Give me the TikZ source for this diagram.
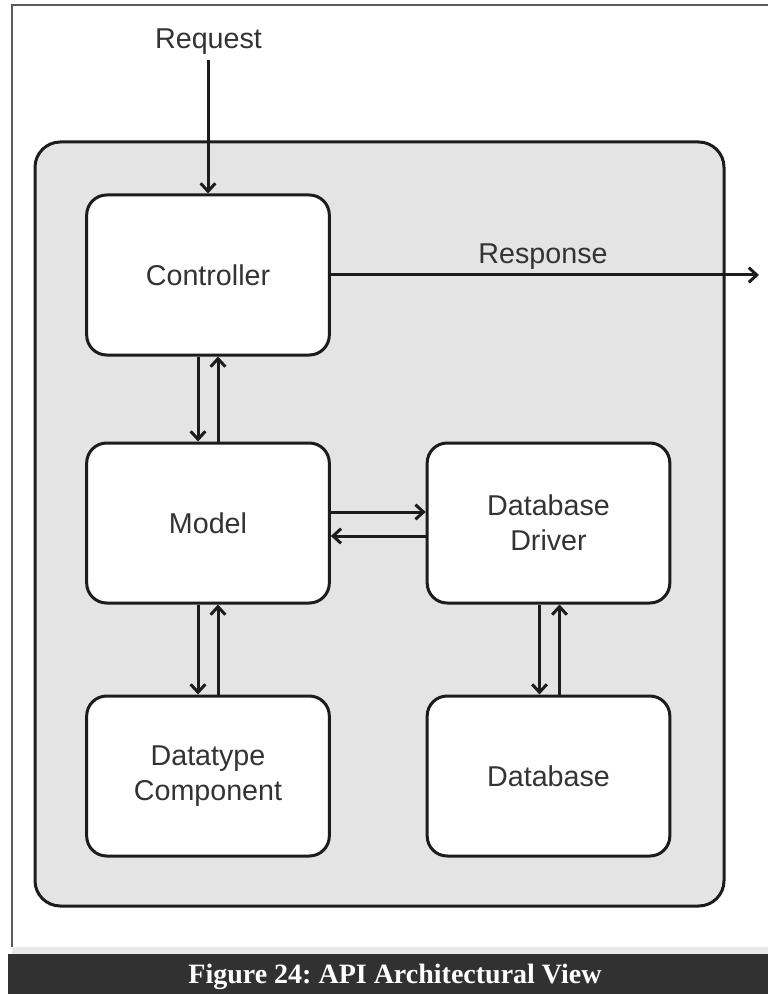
\documentclass[tikz,border=0pt]{standalone}
\usepackage{fontspec}
\setmainfont{Liberation Sans}
\newfontfamily\capfont{Liberation Serif}
\usetikzlibrary{arrows.meta,calc}

\definecolor{panel}{HTML}{E4E4E4}
\definecolor{ink}{HTML}{1C1C1C}
\definecolor{labelgray}{HTML}{333333}
\definecolor{capbar}{HTML}{313131}
\definecolor{strip}{HTML}{E9E9E9}
\definecolor{pageframe}{HTML}{5A5A5A}

\frenchspacing
\begin{document}
\begin{tikzpicture}[
  x=0.75pt, y=-0.75pt,
  flow/.style={draw=ink, line width=2.25pt,
    -{Straight Barb[length=6pt,width=11pt]}},
  block/.style={draw=ink, line width=2.25pt, fill=white, rounded corners=15pt,
    minimum width=182pt, minimum height=120pt, align=center,
    text=labelgray, font=\fontsize{21.5}{26}\selectfont},
  tag/.style={text=labelgray, font=\fontsize{21.5}{26}\selectfont, inner sep=0pt}
]
\useasboundingbox (0,0) rectangle (768,994);
\fill[white] (0,0) rectangle (768,994);

% page frame and caption bar
\draw[pageframe, line width=0.8pt] (12,947) -- (12,5) -- (768,5);
\fill[strip] (12,947) rectangle (768,954);
\fill[capbar] (8,954) rectangle (768,994);
\node[text=white, inner sep=0pt, anchor=base] (caption) at (395,983)
  {\capfont\bfseries\fontsize{21}{24}\selectfont Figure 24: API Architectural View};

% application container
\draw[ink, fill=panel, line width=2.25pt, rounded corners=19pt] (35,142) rectangle (724,906);

% components
\node[block] (ctrl)   at (208,275) {Controller};
\node[block] (model)  at (208,523) {Model};
\node[block] (driver) at (548.5,523) {Database\\Driver};
\node[block] (dtype)  at (208,776) {Datatype\\Component};
\node[block] (db)     at (548.5,776) {Database};

% request / response
\node[tag] (req) at (208.5,42) {Request};
\coordinate (reqstart) at (208,60);
\draw[flow] (reqstart) -- (ctrl.north);

\coordinate (respend) at (759,275);
\draw[flow] (ctrl.east) -- (respend);
\node[tag] (resp) at (543,257) {Response};

% controller <-> model
\draw[flow] ($(ctrl.south)+(-10,0)$) -- ($(model.north)+(-10,0)$);
\draw[flow] ($(model.north)+(10,0)$) -- ($(ctrl.south)+(10,0)$);

% model <-> database driver
\draw[flow] ($(model.east)+(0,-11)$) -- ($(driver.west)+(0,-11)$);
\draw[flow] ($(driver.west)+(0,13)$) -- ($(model.east)+(0,13)$);

% model <-> datatype component
\draw[flow] ($(model.south)+(-10,0)$) -- ($(dtype.north)+(-10,0)$);
\draw[flow] ($(dtype.north)+(10,0)$) -- ($(model.south)+(10,0)$);

% database driver <-> database
\draw[flow] ($(driver.south)+(-9,0)$) -- ($(db.north)+(-9,0)$);
\draw[flow] ($(db.north)+(11,0)$) -- ($(driver.south)+(11,0)$);
\end{tikzpicture}
\end{document}
